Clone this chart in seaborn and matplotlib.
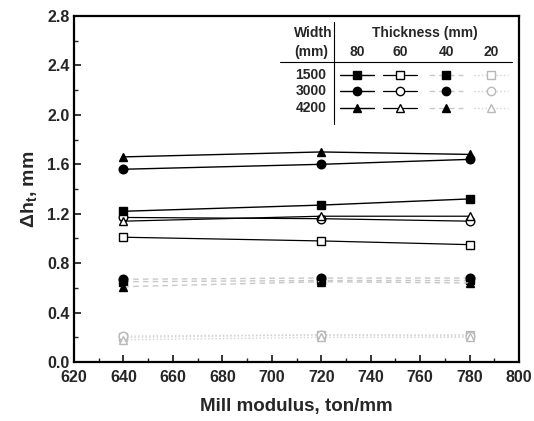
import matplotlib
matplotlib.use("Agg")
import matplotlib.pyplot as plt
from matplotlib.lines import Line2D
import seaborn as sns
import pandas as pd

mill_modulus = [640, 720, 780]
widths = ["1500", "3000", "4200"]
thicknesses = ["80", "60", "40", "20"]

# delta h_t values, [width][thickness] -> list over mill modulus
dh = {
    ("1500", "80"): [1.22, 1.27, 1.32],
    ("3000", "80"): [1.56, 1.60, 1.64],
    ("4200", "80"): [1.66, 1.70, 1.68],
    ("1500", "60"): [1.01, 0.98, 0.95],
    ("3000", "60"): [1.17, 1.16, 1.14],
    ("4200", "60"): [1.14, 1.18, 1.18],
    ("1500", "40"): [0.65, 0.66, 0.66],
    ("3000", "40"): [0.67, 0.68, 0.68],
    ("4200", "40"): [0.61, 0.65, 0.64],
    ("1500", "20"): [0.20, 0.22, 0.22],
    ("3000", "20"): [0.21, 0.22, 0.21],
    ("4200", "20"): [0.18, 0.20, 0.20],
}

rows = []
for (w, t), vals in dh.items():
    for x, v in zip(mill_modulus, vals):
        rows.append({"width": w, "thick": t, "mm": x, "dh": v})
df = pd.DataFrame(rows)

sns.set_style("ticks")
plt.rcParams["font.family"] = ["Liberation Sans", "DejaVu Sans"]
plt.rcParams["font.weight"] = "bold"
plt.rcParams["mathtext.fontset"] = "custom"
plt.rcParams["mathtext.rm"] = "Liberation Sans:bold"
plt.rcParams["mathtext.it"] = "Liberation Sans:bold"
plt.rcParams["mathtext.bf"] = "Liberation Sans:bold"

markers = {"1500": "s", "3000": "o", "4200": "^"}
style = {
    "80": dict(color="black", mfc="black", mec="black", ls="-", lw=1.0),
    "60": dict(color="black", mfc="white", mec="black", ls="-", lw=0.9),
    "40": dict(color="#c8c8c8", mfc="black", mec="black", ls=(0, (4, 3)), lw=1.0),
    "20": dict(color="#d2d2d2", mfc="white", mec="#b8b8b8", ls=":", lw=1.0),
}

fig = plt.figure(figsize=(5.34, 4.21), dpi=100)
ax = fig.add_axes([0.1386, 0.140, 0.8334, 0.822])

for t in ["20", "40", "60", "80"]:
    for w in widths:
        sub = df[(df.width == w) & (df.thick == t)]
        s = style[t]
        sns.lineplot(data=sub, x="mm", y="dh", ax=ax, marker=markers[w],
                     markersize=6.2, color=s["color"], linestyle=s["ls"],
                     linewidth=s["lw"], markerfacecolor=s["mfc"],
                     markeredgecolor=s["mec"], markeredgewidth=1.0,
                     legend=False, zorder=3)

ax.set_xlim(620, 800)
ax.set_ylim(0, 2.8)
ax.set_xticks(range(620, 801, 20))
yt = [0.0, 0.4, 0.8, 1.2, 1.6, 2.0, 2.4, 2.8]
ax.set_yticks(yt)
ax.set_yticklabels([f"{v:.1f}" for v in yt])
ax.set_xticks(range(630, 800, 20), minor=True)
ax.set_yticks([0.2, 0.6, 1.0, 1.4, 1.8, 2.2, 2.6], minor=True)
ax.tick_params(which="major", direction="in", length=5, width=1.3, labelsize=11.5)
ax.tick_params(axis="x", which="major", pad=6)
ax.tick_params(axis="y", which="major", pad=3)
ax.tick_params(which="minor", direction="in", length=3, width=1.0)
for lab in ax.get_xticklabels() + ax.get_yticklabels():
    lab.set_fontweight("bold")
for sp in ax.spines.values():
    sp.set_linewidth(1.6)
    sp.set_color("black")

ax.set_xlabel("Mill modulus, ton/mm", fontsize=13.5, fontweight="bold", labelpad=9)
ax.set_ylabel(r"$\Delta$h$_\mathregular{t}$, mm", fontsize=14, fontweight="bold", labelpad=6)

# table-style legend in axes coordinates
def ax_xy(px, py):
    return (px - 74) / 445.0, (362 - py) / 346.0

tr = ax.transAxes
fs = 10
x, y = ax_xy(313, 33)
ax.text(x, y, "Width", transform=tr, ha="center", va="center", fontsize=fs, fontweight="bold")
x, y = ax_xy(311, 52)
ax.text(x, y, "(mm)", transform=tr, ha="center", va="center", fontsize=fs, fontweight="bold")
x, y = ax_xy(425, 33)
ax.text(x, y, "Thickness (mm)", transform=tr, ha="center", va="center", fontsize=fs, fontweight="bold")
col_px = {"80": 357, "60": 400, "40": 446, "20": 491}
for t, cx in col_px.items():
    x, y = ax_xy(cx, 52)
    ax.text(x, y, t, transform=tr, ha="center", va="center", fontsize=fs, fontweight="bold")
row_py = {"1500": 75, "3000": 91, "4200": 108}
for w, ry in row_py.items():
    x, y = ax_xy(311, ry)
    ax.text(x, y, w, transform=tr, ha="center", va="center", fontsize=fs, fontweight="bold")
    for t, cx in col_px.items():
        s = style[t]
        x0, yy = ax_xy(cx - 17, ry)
        x1, _ = ax_xy(cx + 17, ry)
        xm, _ = ax_xy(cx, ry)
        ax.add_line(Line2D([x0, x1], [yy, yy], transform=tr, color=s["color"],
                           ls=s["ls"], lw=s["lw"]))
        ax.add_line(Line2D([xm], [yy], transform=tr, marker=markers[w], markersize=6,
                           mfc=s["mfc"], mec=s["mec"], mew=1.0, ls="none"))
# separators
xa, ya = ax_xy(280, 62)
xb, _ = ax_xy(512, 62)
ax.add_line(Line2D([xa, xb], [ya, ya], transform=tr, color="black", lw=0.8))
xs, y0 = ax_xy(334, 22)
_, y1 = ax_xy(334, 124)
ax.add_line(Line2D([xs, xs], [y0, y1], transform=tr, color="black", lw=0.8))

fig.savefig("out.png", dpi=100)
